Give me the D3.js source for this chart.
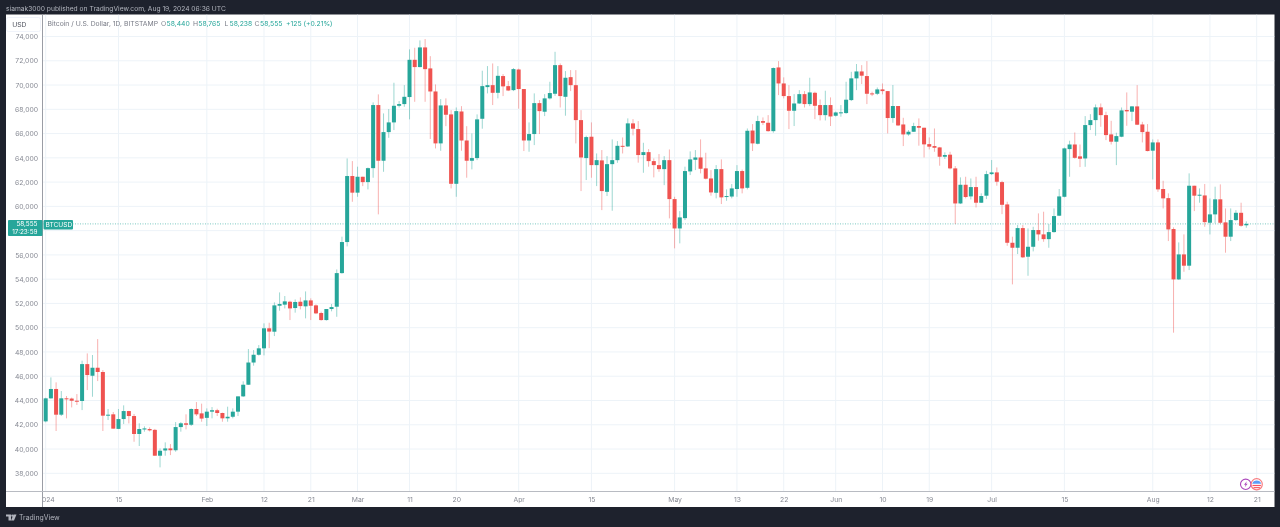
<!DOCTYPE html>
<html>
<head>
<meta charset="utf-8">
<script src="https://cdn.jsdelivr.net/npm/d3@7"></script>
<style>
    html, body { margin: 0; padding: 0; background: #1e222d; overflow: hidden; }
    svg { display: block; filter: blur(0.3px); }
    text { font-family: Inter, Roboto, sans-serif; }
    .axis .domain, .axis line { display: none; }
    .axis text { fill: #868993; font-size: 6.8px; }
</style>
</head>
<body>
<div id="container"></div>
<script>
const width = 1280;
const height = 527;

const UP = '#26a69a';
const DOWN = '#ef5350';

// daily candles from 2024-01-01, one value per day
const opens = [42280,44177,44950,42830,44180,44160,43980,43960,47000,46040,46700,46350,42750,42860,41660,42470,43130,42720,41240,41610,41650,41580,39450,39880,40050,39900,41810,42120,42000,43300,42940,42570,43080,43200,42970,42530,42660,43080,44340,45300,47130,47770,48300,49950,49670,51810,51900,52140,51620,52140,51760,52250,51840,51210,50630,51540,51730,54500,57060,62500,61130,62440,62000,63150,68350,63760,66120,66920,68290,68430,69010,72080,71480,73100,71370,69470,65190,68320,67580,61860,67820,65430,63760,63980,67220,69830,69990,69360,70740,69910,69580,71280,69670,65430,65960,68510,67800,68900,69280,71640,69030,70650,69990,67110,63980,65740,63400,63790,61200,63480,63810,64990,64940,66840,66370,64230,64470,63730,63400,63070,63810,60600,58180,59030,62880,63840,64030,63130,62300,61120,63070,60790,60810,61430,62910,61530,66250,65160,67030,66890,66200,71450,70130,69090,67880,68480,69250,68430,69360,68350,67520,68350,67470,67740,67690,68760,70550,71120,70740,69310,69280,69640,69500,67280,68270,66750,65930,66150,66620,66480,65130,64970,64860,64090,64260,63130,60240,61780,60820,61590,60300,60880,62660,62800,62000,60160,57000,56590,58210,55850,56670,58050,57690,57300,57880,59230,60790,64720,65100,64120,63950,66700,67110,68160,67520,65930,65330,65740,67940,67800,68240,66750,66150,64590,65270,61430,60680,58130,53980,56040,55110,61700,60880,60900,58650,59340,60580,58680,57500,58870,59470,58440];
const highs = [44230,45906,45495,44780,44370,44240,44530,47280,47880,47750,49060,46510,43300,43050,43300,43600,43150,42890,42120,41870,41790,41660,40050,40550,40410,42220,42220,42860,43350,43870,43740,43350,43460,43320,43000,43490,43350,44340,45580,48240,48160,48570,50360,50410,52090,52910,52610,52220,52330,52500,52990,52420,51920,51320,51540,51950,54800,57500,63950,63730,63270,62440,63200,68570,69230,67660,68020,70190,68680,69990,72940,73070,73680,73790,72380,70050,68840,68900,67930,68150,68260,66610,66010,67580,71180,71560,71780,71560,70900,70330,71400,71350,69670,66920,69310,68760,69250,70270,72740,71780,71150,71230,71230,67930,65820,66920,64360,64640,64140,65520,65380,65680,67250,67190,67030,65240,64720,63950,64310,64140,64690,60790,59610,63270,64530,64640,65520,64420,62990,63400,63870,61400,61840,63400,63030,66420,66780,67470,67330,67520,71450,71970,70630,69990,69250,69580,69500,70600,69450,68810,69530,68980,67810,68350,70270,71090,71730,71640,71970,69450,69800,70130,69500,70000,68270,67300,66290,66890,67250,66480,65680,66420,64900,64450,64500,63320,62390,62440,62300,62440,61070,62930,63820,63210,62110,60380,57500,58460,58460,58180,58320,59420,59560,58540,59830,61430,64850,65410,66090,65100,67440,67600,68400,68480,67800,67050,66070,68150,69390,68260,69990,66970,66780,65520,65520,62110,61070,58270,57030,57690,62720,61700,61480,61840,60650,61620,61810,59830,59830,59690,60300,58765];
const lows = [42200,44150,41485,42720,42530,43430,43630,43210,44860,44310,45600,41485,42390,41680,41640,42060,42110,40600,40250,41430,41450,39450,38490,39450,39500,39780,41430,41620,41900,42720,42250,41900,42530,42720,42250,42250,42530,42720,44290,45280,46870,47700,47720,48320,49310,51400,51590,50630,51240,51510,50770,50630,51120,50580,50580,51350,50900,54450,56700,60380,60790,61670,61400,62360,59340,62850,65650,66290,68150,68210,67170,68620,71460,68620,65550,64775,64580,66610,61480,60790,64580,62360,63050,63810,66400,69310,68350,68900,69090,69500,69500,68050,64560,64500,65050,65960,67440,68810,69110,68150,67470,69500,65190,61260,62170,62360,61670,59690,60850,59640,63590,64360,64900,65850,63600,62770,63270,62390,62850,61750,59010,56540,56950,58870,62580,62990,62720,62220,60880,60660,60190,60460,60660,60790,61070,61400,64560,65110,66700,66150,66070,69170,68900,66370,66620,68440,68150,68260,67190,67080,67080,66620,67400,67390,67630,68680,69580,70080,68430,69090,69170,69230,66010,66890,66620,64970,65820,66140,65000,64030,64690,64500,63350,63900,63050,58540,60190,60660,60570,59910,60280,60600,62580,61700,59360,56750,53570,56070,55740,54280,56290,57170,57080,56590,57830,59200,60740,62440,63930,63240,63260,66290,65820,66560,65460,65100,63400,65700,66640,67030,66700,65270,64530,62220,61200,59830,57140,49590,53930,54610,54750,59610,60300,58320,57690,58600,58540,56180,57140,58790,58320,58238];
const closes = [44177,44950,42830,44180,44150,43980,43930,47000,46100,46700,46350,42750,42830,41680,42470,43130,42720,41240,41650,41700,41540,39450,39860,40050,39900,41810,42120,42000,43300,42860,42510,43080,43200,42970,42530,42660,43080,44340,45300,47130,47770,48300,49950,49680,51840,51950,52170,51590,52120,51780,52250,51810,51180,50630,51540,51700,54500,57060,62500,61130,62440,62000,63150,68350,63760,66120,66920,68290,68430,69030,72080,71480,73100,71310,69470,65190,68320,67550,61860,67850,65430,63760,63980,67170,69910,69990,69360,70760,69890,69550,71310,69670,65430,65960,68510,67850,68900,69340,71640,69090,70600,69990,67110,64030,65710,63400,63810,61260,63480,63810,64990,64940,66840,66400,64230,64470,63730,63400,63070,63810,60600,58180,59090,62910,63870,64030,63100,62280,61150,63070,60740,60850,61480,62910,61480,66230,65190,67030,66890,66200,71400,70130,69090,67880,68480,69250,68430,69390,68290,67520,68350,67410,67740,67750,68790,70550,71120,70770,69280,69250,69640,69500,67280,68270,66670,65930,66150,66620,66480,65110,64920,64830,64090,64230,63130,60240,61780,60770,61590,60300,60850,62660,62800,62030,60130,57000,56590,58210,55800,56670,58050,57690,57300,57880,59200,60820,64780,65100,64000,63925,66700,67110,68160,67520,65875,65330,65790,67910,67830,68240,66730,66120,64560,65270,61400,60660,58100,53980,56040,55110,61700,60880,60960,58700,59340,60580,58650,57500,58870,59470,58400,58555];

const startDate = new Date(Date.UTC(2024, 0, 1));
const priceTicks = [38000,40000,42000,44000,46000,48000,50000,52000,54000,56000,58000,60000,62000,64000,66000,68000,70000,72000,74000];
const timeTicks = ['2024-01-01','2024-01-15','2024-02-01','2024-02-12','2024-02-21','2024-03-01','2024-03-11','2024-03-20','2024-04-01','2024-04-15','2024-05-01','2024-05-13','2024-05-22','2024-06-01','2024-06-10','2024-06-19','2024-07-01','2024-07-15','2024-08-01','2024-08-12','2024-08-21'];
const timeLabels = ['2024','15','Feb','12','21','Mar','11','20','Apr','15','May','13','22','Jun','10','19','Jul','15','Aug','12','21'];
const lastPrice = 58555;
// this tick label sits behind the last price box
const hiddenPriceLabel = 58000;

const candles = closes.map((c, i) => ({
    date: d3.utcDay.offset(startDate, i),
    open: opens[i],
    high: highs[i],
    low: lows[i],
    close: c
}));

const panel = { left: 6, right: 1274.5, top: 14.5, bottom: 507 };
const plot = { left: 42.5, right: 1274.5, top: 14.5, bottom: 491.5 };

const x = d3.scaleUtc()
    .domain([startDate, new Date(Date.UTC(2024, 7, 21))])
    .range([45.7, 1256.7]);
const y = d3.scaleLinear()
    .domain([38000, 74000])
    .range([473.3, 36.5]);

const svg = d3.select('#container').append('svg')
    .attr('width', width)
    .attr('height', height)
    .attr('viewBox', `0 0 ${width} ${height}`);

svg.append('text')
    .attr('x', 6)
    .attr('y', 11.3)
    .attr('fill', '#b2b5be')
    .style('font-size', '6.7px')
    .text('siamak3000 published on TradingView.com, Aug 19, 2024 06:36 UTC');

svg.append('rect')
    .attr('x', panel.left)
    .attr('y', panel.top)
    .attr('width', panel.right - panel.left)
    .attr('height', panel.bottom - panel.top)
    .attr('fill', '#fff');

let defs = svg.append('defs');
defs.append('clipPath').attr('id', 'plotClip').append('rect')
    .attr('x', plot.left)
    .attr('y', plot.top)
    .attr('width', plot.right - plot.left)
    .attr('height', panel.bottom - plot.top);

let chart = svg.append('g').attr('clip-path', 'url(#plotClip)');

// grid
chart.append('g')
    .selectAll('line')
    .data(priceTicks)
    .join('line')
    .attr('x1', plot.left)
    .attr('x2', plot.right)
    .attr('y1', d => y(d))
    .attr('y2', d => y(d))
    .attr('stroke', '#edf3f8');

chart.append('g')
    .selectAll('line')
    .data(timeTicks)
    .join('line')
    .attr('x1', d => x(new Date(d)))
    .attr('x2', d => x(new Date(d)))
    .attr('y1', plot.top)
    .attr('y2', plot.bottom)
    .attr('stroke', '#edf3f8');

// last price line
chart.append('line')
    .attr('x1', plot.left)
    .attr('x2', plot.right)
    .attr('y1', y(lastPrice))
    .attr('y2', y(lastPrice))
    .attr('stroke', UP)
    .attr('stroke-opacity', 0.6)
    .attr('stroke-dasharray', '1 1.5');

// candles
let candle = chart.append('g')
    .selectAll('g')
    .data(candles)
    .join('g')
    .attr('transform', d => 'translate(' + x(d.date) + ',0)');

candle.append('line')
    .attr('y1', d => y(d.high))
    .attr('y2', d => y(d.low))
    .attr('stroke', d => d.close >= d.open ? UP : DOWN)
    .attr('stroke-opacity', 0.45);

candle.append('rect')
    .attr('x', -2)
    .attr('width', 4)
    .attr('y', d => y(Math.max(d.open, d.close)))
    .attr('height', d => Math.max(1, Math.abs(y(d.open) - y(d.close))))
    .attr('fill', d => d.close >= d.open ? UP : DOWN);

// price axis
svg.append('g')
    .attr('class', 'axis')
    .attr('transform', 'translate(42.5,0)')
    .call(d3.axisLeft(y)
        .tickValues(priceTicks.filter(d => d !== hiddenPriceLabel))
        .tickFormat(d3.format(','))
        .tickSize(0)
        .tickPadding(4.5));

// time axis, the first label runs under the price axis line
chart.append('g')
    .attr('class', 'axis')
    .attr('transform', 'translate(0,491.5)')
    .call(d3.axisBottom(x)
        .tickValues(timeTicks.map(d => new Date(d)))
        .tickFormat((d, i) => timeLabels[i])
        .tickSize(0)
        .tickPadding(5.5));

svg.append('line')
    .attr('x1', plot.left).attr('x2', plot.left)
    .attr('y1', panel.top).attr('y2', panel.bottom)
    .attr('stroke', '#9a9da5');
svg.append('line')
    .attr('x1', panel.left).attr('x2', panel.right)
    .attr('y1', plot.bottom).attr('y2', plot.bottom)
    .attr('stroke', '#b8bbc2');

// currency button
svg.append('rect')
    .attr('x', 6.5).attr('y', 17.5)
    .attr('width', 34).attr('height', 14).attr('rx', 2)
    .attr('fill', '#fff').attr('stroke', '#f0f3fa');
svg.append('text')
    .attr('x', 19.3).attr('y', 27.2)
    .attr('text-anchor', 'middle')
    .attr('fill', '#50535e')
    .style('font-size', '6.8px')
    .text('USD');

// legend
const legendItems = [
    ['Bitcoin / U.S. Dollar, 1D, BITSTAMP', 47.5, '#787b86'],
    ['O', 161, '#787b86'], ['58,440', 166.5, UP],
    ['H', 193, '#787b86'], ['58,765', 198.3, UP],
    ['L', 224.5, '#787b86'], ['58,238', 229.5, UP],
    ['C', 254.5, '#787b86'], ['58,555', 260, UP],
    ['+125 (+0.21%)', 286, UP]
];
svg.append('g')
    .selectAll('text')
    .data(legendItems)
    .join('text')
    .attr('x', d => d[1])
    .attr('y', 26.4)
    .attr('fill', d => d[2])
    .style('font-size', '6.8px')
    .text(d => d[0]);

// last price labels
svg.append('rect')
    .attr('x', 8).attr('y', y(lastPrice) - 4)
    .attr('width', 34.5).attr('height', 16).attr('rx', 1)
    .attr('fill', UP);
svg.append('text')
    .attr('x', 37.5).attr('y', y(lastPrice) + 2)
    .attr('text-anchor', 'end').attr('fill', '#fff')
    .style('font-size', '6.4px')
    .text(d3.format(',')(lastPrice));
svg.append('text')
    .attr('x', 37.5).attr('y', y(lastPrice) + 10)
    .attr('text-anchor', 'end').attr('fill', '#fff')
    .style('font-size', '6.4px')
    .text('17:23:59');
svg.append('rect')
    .attr('x', 43.5).attr('y', y(lastPrice) - 4)
    .attr('width', 29.5).attr('height', 9.5).attr('rx', 1)
    .attr('fill', UP);
svg.append('text')
    .attr('x', 45.5).attr('y', y(lastPrice) + 3.2)
    .attr('fill', '#fff')
    .style('font-size', '6.6px')
    .text('BTCUSD');

// event badges
let badges = svg.append('g').attr('transform', 'translate(0,484.3)');
badges.append('circle').attr('cx', 1245.7).attr('r', 5.2)
    .attr('fill', '#fff').attr('stroke', '#ab47bc').attr('stroke-width', 1.1);
badges.append('path')
    .attr('d', 'M1246.8,-3 L1244,0.5 L1245.6,0.5 L1244.8,3 L1247.6,-0.6 L1246,-0.6 Z')
    .attr('fill', '#ab47bc');
badges.append('circle').attr('cx', 1256.7).attr('r', 5.6)
    .attr('fill', '#fff').attr('stroke', '#f77c80').attr('stroke-width', 1.2);
badges.append('path')
    .attr('d', 'M1252.2,-0.6 A4.8,4.8 0 0 1 1261.2,-0.6 Z')
    .attr('fill', '#5b9cf6');
badges.append('rect').attr('x', 1252.5).attr('y', 0.6).attr('width', 8.4).attr('height', 1.2).attr('fill', '#f7525f');
badges.append('rect').attr('x', 1253.5).attr('y', 2.8).attr('width', 6.4).attr('height', 1.1).attr('fill', '#f7525f');

// brand
let brand = svg.append('g').attr('fill', '#b2b5be');
brand.append('path').attr('d', 'M6,514.5 H11 V520.5 H8.5 V516.6 H6 Z');
brand.append('circle').attr('cx', 12.3).attr('cy', 515.7).attr('r', 1.1);
brand.append('path').attr('d', 'M13.5,514.5 H16.5 L14,520.5 H11 Z');
brand.append('text')
    .attr('x', 19).attr('y', 520.2)
    .style('font-size', '6.9px')
    .text('TradingView');
</script>
</body>
</html>
